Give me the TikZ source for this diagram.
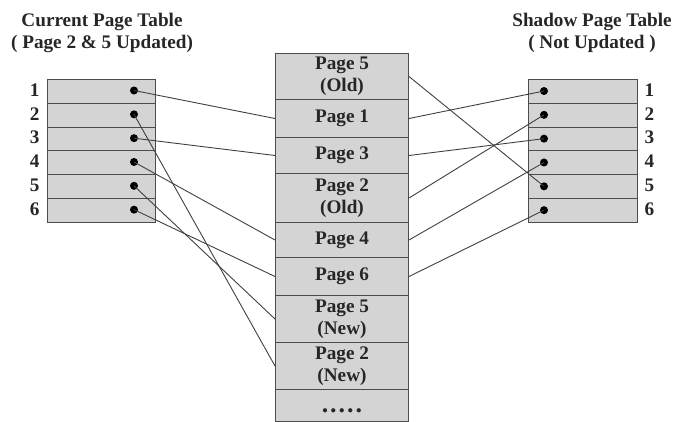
\documentclass[tikz,border=0pt]{standalone}
\usepackage{fontspec}
\setmainfont{Liberation Serif}
\begin{document}
\begin{tikzpicture}[x=1pt,y=-1pt,
  txt/.style={font=\fontsize{19.2}{22}\selectfont\bfseries, text=black!85},
  cell/.style={draw=black!70, line width=1pt, fill=black!17, inner sep=0pt, anchor=north west},
  dotn/.style={circle, fill=black, inner sep=0pt, minimum size=8pt},
  link/.style={draw=black!75, line width=0.9pt}]
\useasboundingbox (0,0) rectangle (675,421);
% titles
\node[txt, align=center] (tl) at (102,33) {Current Page Table\\( Page 2 \& 5 Updated)};
\node[txt, align=center] (tr) at (592,33) {Shadow Page Table\\( Not Updated )};
% left and right tables
\foreach \i in {1,...,6}{
  \pgfmathsetmacro{\yy}{79+(\i-1)*23.83}
  \node[cell, minimum width=108pt, minimum height=23.83pt] (L\i) at (47,\yy) {};
  \node[cell, minimum width=109pt, minimum height=23.83pt] (R\i) at (528,\yy) {};
  \node[txt, anchor=east] (LN\i) at (43,\yy+11) {\i};
  \node[txt, anchor=west] (RN\i) at (641,\yy+11) {\i};
  \node[dotn] (LD\i) at (134,\yy+11.5) {};
  \node[dotn] (RD\i) at (544,\yy+12) {};
}
% middle column
\node[cell, minimum width=133pt, minimum height=46pt] (M1) at (275,53) {};
\node[cell, minimum width=133pt, minimum height=38pt] (M2) at (275,99) {};
\node[cell, minimum width=133pt, minimum height=36pt] (M3) at (275,137) {};
\node[cell, minimum width=133pt, minimum height=49pt] (M4) at (275,173) {};
\node[cell, minimum width=133pt, minimum height=35pt] (M5) at (275,222) {};
\node[cell, minimum width=133pt, minimum height=38pt] (M6) at (275,257) {};
\node[cell, minimum width=133pt, minimum height=47pt] (M7) at (275,295) {};
\node[cell, minimum width=133pt, minimum height=47pt] (M8) at (275,342) {};
\node[cell, minimum width=133pt, minimum height=32pt] (M9) at (275,389) {};
\node[txt, align=center] (T1) at (M1.center) {Page 5\\(Old)};
\node[txt] (T2) at (M2.center) {Page 1};
\node[txt] (T3) at (M3.center) {Page 3};
\node[txt, align=center] (T4) at (M4.center) {Page 2\\(Old)};
\node[txt] (T5) at (M5.center) {Page 4};
\node[txt] (T6) at (M6.center) {Page 6};
\node[txt, align=center] (T7) at (M7.center) {Page 5\\(New)};
\node[txt, align=center] (T8) at (M8.center) {Page 2\\(New)};
\node[txt, font=\fontsize{26}{26}\selectfont\bfseries] (T9) at ([yshift=-5pt]M9.center) {.\kern2pt.\kern2pt.\kern2pt.\kern2pt.};
% current page table links
\draw[link] (LD1.center) -- (M2.west);
\draw[link] (LD2.center) -- (M8.west);
\draw[link] (LD3.center) -- (M3.west);
\draw[link] (LD4.center) -- (M5.west);
\draw[link] (LD5.center) -- (M7.west);
\draw[link] (LD6.center) -- (M6.west);
% shadow page table links
\draw[link] (RD1.center) -- (M2.east);
\draw[link] (RD2.center) -- (M4.east);
\draw[link] (RD3.center) -- (M3.east);
\draw[link] (RD4.center) -- (M5.east);
\draw[link] (RD5.center) -- (M1.east);
\draw[link] (RD6.center) -- (M6.east);
\end{tikzpicture}
\end{document}
